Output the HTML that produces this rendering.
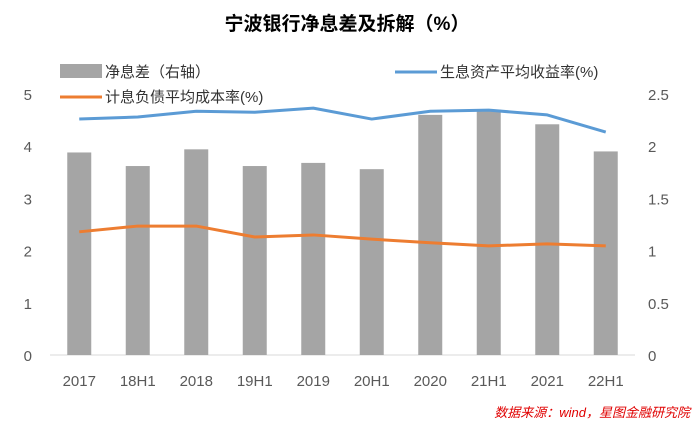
<!DOCTYPE html>
<html><head><meta charset="utf-8"><style>
body{margin:0;background:#fff;}
svg text{font-family:"Liberation Sans","Noto Sans CJK SC",sans-serif;}
</style></head><body>
<svg width="695" height="428" viewBox="0 0 695 428" id="chart">
<text x="347" y="30" text-anchor="middle" font-size="19" font-weight="bold" fill="#000">宁波银行净息差及拆解（%）</text>
<g>
<rect x="60" y="64" width="42" height="14" fill="#a5a5a5"/>
<text x="105" y="77" font-size="15" fill="#333">净息差（右轴）</text>
<line x1="395" y1="72" x2="437" y2="72" stroke="#5b9bd5" stroke-width="3"/>
<text x="440" y="77" font-size="15" fill="#333">生息资产平均收益率(%)</text>
<line x1="60" y1="97" x2="102" y2="97" stroke="#ed7d31" stroke-width="3"/>
<text x="105" y="102" font-size="15" fill="#333">计息负债平均成本率(%)</text>
</g>
<g id="plot"></g>
<text x="690" y="417" text-anchor="end" font-size="13" font-style="italic" fill="#e00000">数据来源：wind，星图金融研究院</text>
</svg>
<script>
const categories=["2017","18H1","2018","19H1","2019","20H1","2020","21H1","2021","22H1"];
const nimValues=[1.94,1.81,1.97,1.81,1.84,1.78,2.30,2.35,2.21,1.95];
const yieldValues=[4.52,4.56,4.67,4.65,4.73,4.52,4.67,4.69,4.60,4.27];
const costValues=[2.36,2.47,2.47,2.26,2.30,2.22,2.15,2.09,2.13,2.09];
const leftTicks=["0","1","2","3","4","5"];
const rightTicks=["0","0.5","1","1.5","2","2.5"];
const NS="http://www.w3.org/2000/svg";
const g=document.getElementById('plot');
const x0=50,x1=635,yB=355,yT=94;
const step=(x1-x0)/categories.length;
const xs=i=>x0+step*(i+0.5);
const yL=v=>yB-(v/5)*(yB-yT);
const yR=v=>yB-(v/2.5)*(yB-yT);
function mk(t,a){const e=document.createElementNS(NS,t);for(const k in a)e.setAttribute(k,a[k]);g.appendChild(e);return e;}
const ax=mk('line',{x1:x0,x2:x1,y1:yB,y2:yB,stroke:'#d9d9d9','stroke-width':1});


leftTicks.forEach((t,i)=>{const e=mk('text',{x:32,y:yL(i)+6,'text-anchor':'end','font-size':15,fill:'#595959'});e.textContent=t;

});
rightTicks.forEach((t,i)=>{const e=mk('text',{x:648,y:yR(i*0.5)+6,'text-anchor':'start','font-size':15,fill:'#595959'});e.textContent=t;

});
categories.forEach((c,i)=>{const b=mk('rect',{x:xs(i)-12,y:yR(nimValues[i]),width:24,height:yB-yR(nimValues[i]),fill:'#a5a5a5'});


const t=mk('text',{x:xs(i),y:386,'text-anchor':'middle','font-size':15,fill:'#595959'});t.textContent=c;

});
function line(vals,col,name){const p=mk('polyline',{points:vals.map((v,i)=>xs(i)+','+yL(v)).join(' '),fill:'none',stroke:col,'stroke-width':3,'stroke-linejoin':'round'});

}
line(yieldValues,'#5b9bd5','yield-line');
line(costValues,'#ed7d31','cost-line');
</script>
</body></html>
